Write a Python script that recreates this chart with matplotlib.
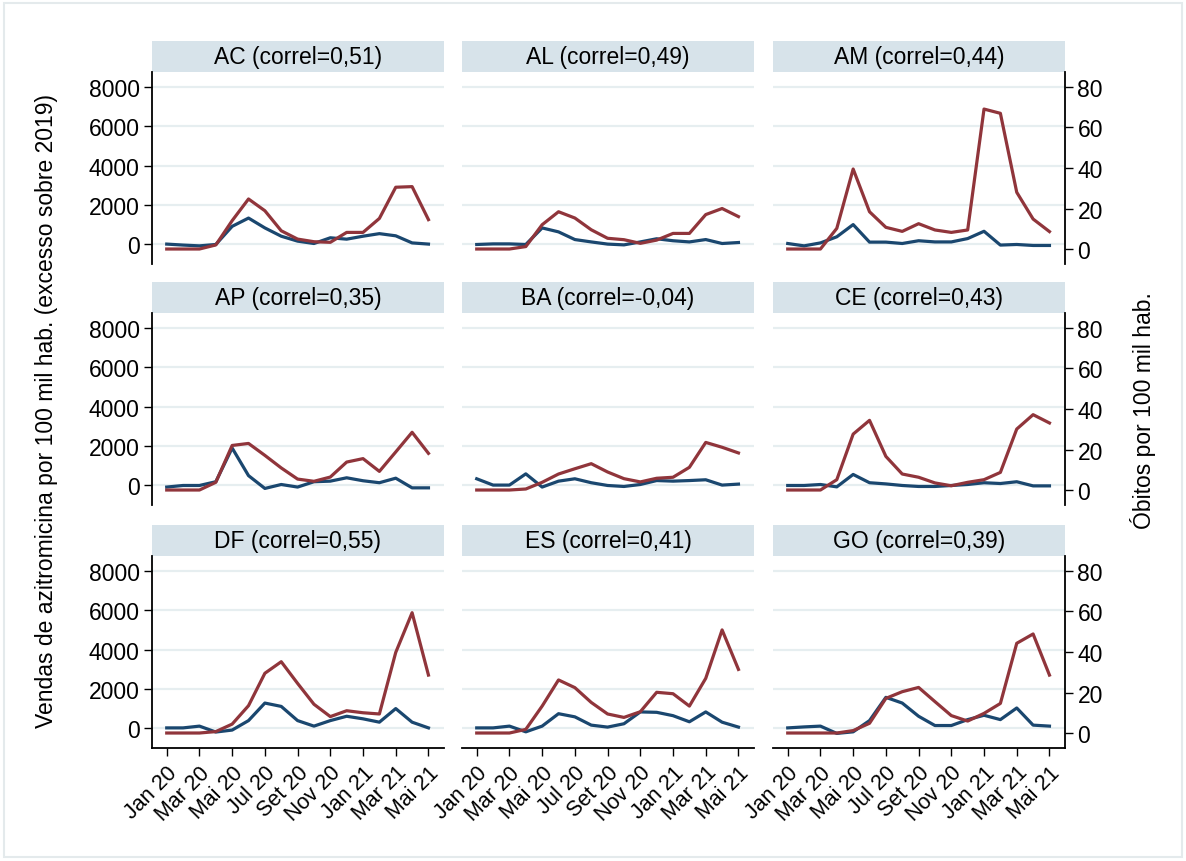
import matplotlib
matplotlib.use('Agg')
import matplotlib.pyplot as plt
from matplotlib.patches import Rectangle

plt.rcParams['font.family'] = ['Liberation Sans', 'DejaVu Sans']

# Jan 20 .. Mai 21 (17 meses)
meses = list(range(17))
tick_pos = [0, 2, 4, 6, 8, 10, 12, 14, 16]
tick_labels = ['Jan 20', 'Mar 20', 'Mai 20', 'Jul 20', 'Set 20', 'Nov 20',
               'Jan 21', 'Mar 21', 'Mai 21']

ufs = ['AC', 'AL', 'AM', 'AP', 'BA', 'CE', 'DF', 'ES', 'GO']
correl = ['0,51', '0,49', '0,44', '0,35', '-0,04', '0,43', '0,55', '0,41', '0,39']

# vendas de azitromicina por 100 mil hab. (excesso sobre 2019)
vendas_ac = [20, -30, -70, 0, 920, 1340, 840, 420, 170, 50, 340, 270, 420, 550, 440, 80, 20]
vendas_al = [0, 30, 30, 0, 840, 640, 250, 130, 20, -20, 130, 290, 190, 130, 250, 50, 100]
vendas_am = [50, -70, 80, 390, 1010, 120, 120, 50, 190, 130, 130, 300, 670, -30, 0, -50, -50]
vendas_ap = [-80, 0, 0, 190, 1900, 500, -150, 50, -80, 190, 220, 390, 240, 140, 370, -120, -120]
vendas_ba = [340, 20, 20, 590, -80, 220, 340, 140, 0, -50, 50, 250, 220, 250, 290, 20, 70]
vendas_ce = [0, 0, 50, -70, 560, 140, 80, 0, -50, -50, 0, 50, 140, 100, 190, -20, -20]
vendas_df = [30, 30, 120, -180, -80, 400, 1290, 1120, 400, 120, 400, 620, 490, 320, 1010, 320, 30]
vendas_es = [30, 30, 120, -170, 120, 750, 590, 170, 70, 240, 840, 820, 650, 340, 840, 320, 70]
vendas_go = [30, 80, 120, -250, -170, 400, 1580, 1290, 620, 150, 150, 450, 670, 450, 1040, 170, 120]

# óbitos por 100 mil hab.
obitos_ac = [0, 0, 0, 2.0, 14.0, 24.7, 18.9, 9.0, 4.9, 3.6, 3.3, 8.2, 8.2, 15.1, 30.5, 30.8, 14.5]
obitos_al = [0, 0, 0, 1.2, 12.0, 18.4, 15.3, 9.5, 5.3, 4.6, 2.8, 4.4, 7.7, 7.7, 17.0, 20.0, 16.0]
obitos_am = [0, 0, 0, 10.2, 39.5, 18.4, 10.7, 8.7, 12.5, 9.4, 8.2, 9.4, 69.1, 67.0, 28.0, 14.8, 8.6]
obitos_ap = [0, 0, 0, 3.8, 22.0, 23.0, 17.1, 10.9, 5.4, 4.3, 6.4, 13.8, 15.5, 9.2, 18.8, 28.5, 18.1]
obitos_ba = [0, 0, 0, 0.5, 3.8, 7.9, 10.5, 13.0, 8.9, 5.6, 4.0, 5.8, 6.3, 11.2, 23.5, 21.1, 18.3]
obitos_ce = [0, 0, 0, 5.1, 27.6, 34.4, 16.6, 7.9, 6.3, 3.5, 2.1, 3.8, 5.1, 8.7, 30.1, 37.2, 33.1]
obitos_df = [0, 0, 0, 0.7, 4.4, 13.5, 29.5, 35.2, 24.5, 14.2, 8.1, 11.0, 10.0, 9.4, 39.8, 59.4, 28.6]
obitos_es = [0, 0, 0, 1.8, 13.3, 26.2, 22.4, 15.1, 9.4, 7.7, 10.5, 20.1, 19.4, 13.3, 27.0, 50.9, 31.4]
obitos_go = [0, 0, 0, 0, 1.2, 4.8, 17.1, 20.4, 22.5, 15.5, 8.6, 5.9, 9.7, 14.6, 44.3, 48.9, 28.6]

vendas = [vendas_ac, vendas_al, vendas_am, vendas_ap, vendas_ba,
          vendas_ce, vendas_df, vendas_es, vendas_go]
obitos = [obitos_ac, obitos_al, obitos_am, obitos_ap, obitos_ba,
          obitos_ce, obitos_df, obitos_es, obitos_go]

navy = '#1a476f'
maroon = '#90353b'
grid_color = '#e6eef0'
strip_color = '#d7e3ea'
fs = 16.5

W, H = 1186, 862
fig = plt.figure(figsize=(W / 100, H / 100), dpi=100)

# moldura clara da região do gráfico
fig.patches.append(Rectangle((4 / W, 4 / H), 1 - 8 / W, 1 - 8 / H, transform=fig.transFigure,
                             fill=False, edgecolor='#e4eaec', linewidth=1.5))

col_left = [152, 462, 773]
row_top = [73, 314, 557]
pw, ph, sh = 292, 192, 31

for k, uf in enumerate(ufs):
    r, c = divmod(k, 3)
    x0 = col_left[c] / W
    y0 = 1 - (row_top[r] + ph) / H

    # faixa do título
    sax = fig.add_axes([x0, y0 + ph / H, pw / W, sh / H])
    sax.set_facecolor(strip_color)
    sax.set_xticks([])
    sax.set_yticks([])
    for s in sax.spines.values():
        s.set_visible(False)
    sax.text(0.5, 0.5, f'{uf} (correl={correl[k]})', ha='center', va='center',
             fontsize=fs, transform=sax.transAxes)

    ax = fig.add_axes([x0, y0, pw / W, ph / H])
    ax2 = ax.twinx()

    ax.plot(meses, vendas[k], color=navy, linewidth=2.3, solid_joinstyle='round')
    ax2.plot(meses, obitos[k], color=maroon, linewidth=2.3, solid_joinstyle='round')

    ax.set_xlim(-0.9, 16.95)
    ax.set_ylim(-990, 8750)
    ax2.set_ylim(-7.4, 87.4)

    ax.set_yticks([0, 2000, 4000, 6000, 8000])
    ax2.set_yticks([0, 20, 40, 60, 80])
    ax.yaxis.grid(True, color=grid_color, linewidth=1.6)
    ax.set_axisbelow(True)

    for a in (ax, ax2):
        for s in a.spines.values():
            s.set_visible(False)
            s.set_linewidth(1.3)

    ax.tick_params(axis='y', labelsize=fs, length=6, width=1, pad=3)
    ax2.tick_params(axis='y', labelsize=fs, length=6, width=1, pad=3)

    if c == 0:
        ax.spines['left'].set_visible(True)
    else:
        ax.tick_params(axis='y', left=False, labelleft=False)

    if c == 2:
        ax2.spines['right'].set_visible(True)
    else:
        ax2.tick_params(axis='y', right=False, labelright=False)

    ax.set_xticks(tick_pos)
    if r == 2:
        ax.spines['bottom'].set_visible(True)
        ax.set_xticklabels(tick_labels, rotation=45, ha='right', rotation_mode='anchor')
        ax.tick_params(axis='x', labelsize=15.5, length=6, width=1, pad=4)
    else:
        ax.tick_params(axis='x', bottom=False, labelbottom=False)

fig.text(47 / W, 1 - 411 / H, 'Vendas de azitromicina por 100 mil hab. (excesso sobre 2019)',
         rotation=90, ha='center', va='center', fontsize=fs)
fig.text(1143 / W, 1 - 411 / H, 'Óbitos por 100 mil hab.',
         rotation=90, ha='center', va='center', fontsize=fs)

fig.savefig('out.png', dpi=100)
